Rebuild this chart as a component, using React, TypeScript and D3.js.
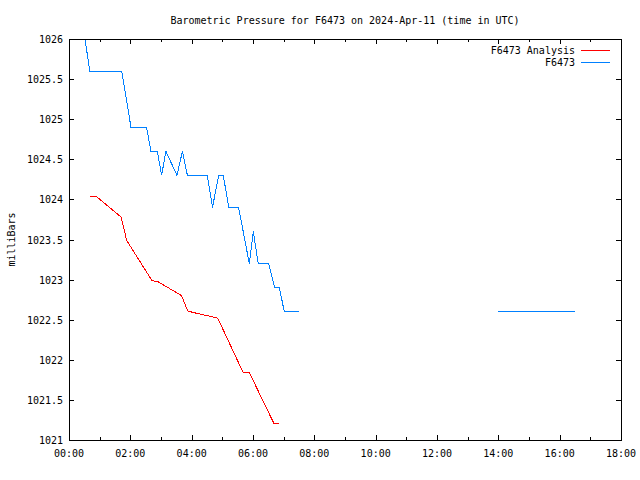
import React from "react";
import * as d3 from "d3";

const TITLE = "Barometric Pressure for F6473 on 2024-Apr-11 (time in UTC)";
const Y_LABEL = "milliBars";

// Analysis series (hours UTC, mb)
const analysisHours = [0.68, 0.88, 1.70, 1.88, 2.70, 2.92, 3.67, 3.87, 4.05, 4.85, 5.68, 5.88, 6.69, 6.86];
const analysisValues = [1024.04, 1024.04, 1023.78, 1023.49, 1022.99, 1022.97, 1022.80, 1022.61, 1022.59, 1022.52, 1021.84, 1021.84, 1021.20, 1021.20];

// Observed series (null = gap)
const obsHours = [0.52, 0.68, 1.72, 2.02, 2.53, 2.67, 2.88, 3.02, 3.16, 3.52, 3.70, 3.86, 4.51, 4.68, 4.88, 5.03, 5.21, 5.53, 5.88, 6.01, 6.17, 6.51, 6.71, 6.86, 7.02, 7.51, 10.0, 14.0, 16.5];
const obsValues: (number | null)[] = [1026.0, 1025.6, 1025.6, 1024.9, 1024.9, 1024.6, 1024.6, 1024.3, 1024.6, 1024.3, 1024.6, 1024.3, 1024.3, 1023.9, 1024.3, 1024.3, 1023.9, 1023.9, 1023.2, 1023.6, 1023.2, 1023.2, 1022.9, 1022.9, 1022.6, 1022.6, null, 1022.6, 1022.6];

const xTickValues = [0, 2, 4, 6, 8, 10, 12, 14, 16, 18];
const xTickLabels = ["00:00", "02:00", "04:00", "06:00", "08:00", "10:00", "12:00", "14:00", "16:00", "18:00"];
const xMinorTicks = [1, 3, 5, 7, 9, 11, 13, 15, 17];
const yTickValues = [1021, 1021.5, 1022, 1022.5, 1023, 1023.5, 1024, 1024.5, 1025, 1025.5, 1026];
const yTickLabels = ["1021", "1021.5", "1022", "1022.5", "1023", "1023.5", "1024", "1024.5", "1025", "1025.5", "1026"];

const legendNames = ["F6473 Analysis", "F6473"];
const legendColors = ["#ff0000", "#0080ff"];

const W = 640, H = 480;
const L = 69, R = 621, T = 39, B = 440;
const FONT = "'DejaVu Sans Mono', monospace";

export default function App() {
  const x = d3.scaleLinear().domain([0, 18]).range([L, R]);
  const y = d3.scaleLinear().domain([1021, 1026]).range([B, T]);

  const aData = analysisHours.map((h, i) => ({ h, v: analysisValues[i] as number | null }));
  const oData = obsHours.map((h, i) => ({ h, v: obsValues[i] }));

  const line = d3
    .line<{ h: number; v: number | null }>()
    .defined((d) => d.v !== null)
    .x((d) => x(d.h))
    .y((d) => y(d.v as number));

  const major = 5, minor = 3;

  return (
    <svg width={W} height={H} style={{ position: "fixed", left: 0, top: 0, background: "#fff" }} fontFamily={FONT} fontSize={10}>
      <rect x={0} y={0} width={W} height={H} fill="#fff" />
      <text x={(L + R) / 2} y={24} textAnchor="middle" fill="#000">{TITLE}</text>
      <text transform={`translate(15,${(T + B) / 2}) rotate(-90)`} textAnchor="middle" fill="#000">{Y_LABEL}</text>

      <g shapeRendering="crispEdges" stroke="#000" strokeWidth={1}>
        {xTickValues.map((v) => (
          <g key={"xt" + v}>
            <line x1={x(v) + 0.5} x2={x(v) + 0.5} y1={B} y2={B - major} />
            <line x1={x(v) + 0.5} x2={x(v) + 0.5} y1={T} y2={T + major} />
          </g>
        ))}
        {xMinorTicks.map((v) => (
          <g key={"xm" + v}>
            <line x1={x(v) + 0.5} x2={x(v) + 0.5} y1={B} y2={B - minor} />
            <line x1={x(v) + 0.5} x2={x(v) + 0.5} y1={T} y2={T + minor} />
          </g>
        ))}
        {yTickValues.map((v) => (
          <g key={"yt" + v}>
            <line x1={L} x2={L + major} y1={y(v) + 0.5} y2={y(v) + 0.5} />
            <line x1={R} x2={R - major} y1={y(v) + 0.5} y2={y(v) + 0.5} />
          </g>
        ))}
      </g>

      {xTickValues.map((v, i) => (
        <text key={"xl" + v} x={x(v)} y={457} textAnchor="middle" fill="#000">{xTickLabels[i]}</text>
      ))}
      {yTickValues.map((v, i) => (
        <text key={"yl" + v} x={63} y={y(v) + 4} textAnchor="end" fill="#000">{yTickLabels[i]}</text>
      ))}

      <path d={line(aData) || ""} fill="none" stroke={legendColors[0]} strokeWidth={1} shapeRendering="crispEdges" />
      <path d={line(oData) || ""} fill="none" stroke={legendColors[1]} strokeWidth={1} shapeRendering="crispEdges" />

      {legendNames.map((n, i) => (
        <g key={n}>
          <text x={575} y={53.5 + i * 12} textAnchor="end" fill="#000">{n}</text>
          <line x1={581} x2={610} y1={50.5 + i * 12} y2={50.5 + i * 12} stroke={legendColors[i]} strokeWidth={1} shapeRendering="crispEdges" />
        </g>
      ))}

      <rect x={L + 0.5} y={T + 0.5} width={R - L} height={B - T} fill="none" stroke="#000" strokeWidth={1} shapeRendering="crispEdges" />
    </svg>
  );
}
